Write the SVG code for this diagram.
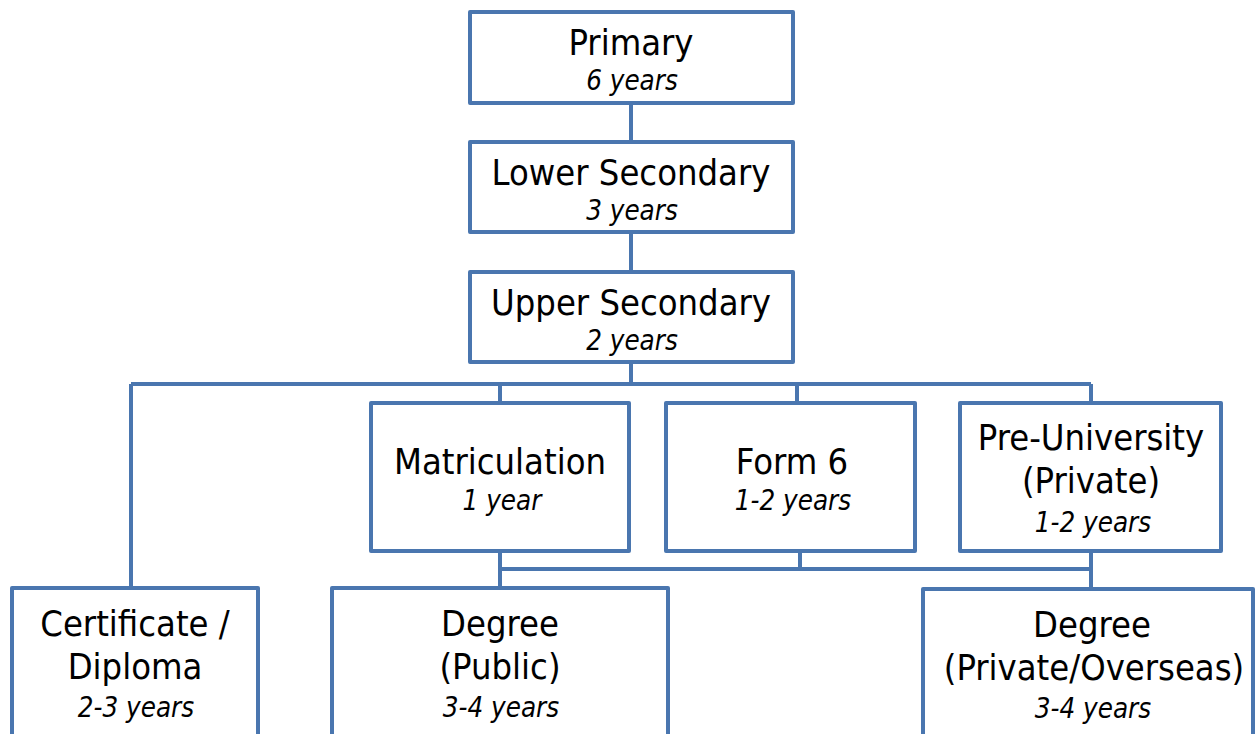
<svg xmlns="http://www.w3.org/2000/svg" width="1260" height="734" viewBox="0 0 1260 734">
<style>
.box{fill:#fff;stroke:#4A76AF;stroke-width:4;stroke-linejoin:round}
.ln{fill:none;stroke:#4A76AF;stroke-width:4}
.t{font-family:"DejaVu Sans Condensed","DejaVu Sans",sans-serif;font-stretch:condensed;font-size:36px;fill:#000;text-anchor:middle}
.s{font-family:"DejaVu Sans Condensed","DejaVu Sans",sans-serif;font-stretch:condensed;font-style:italic;font-size:27.5px;fill:#000;text-anchor:middle}
</style>
<rect width="1260" height="734" fill="#fff"/>
<g id="connectors">
<path class="ln" d="M631 103V142M631 232V272M631 362V384M131 384H1091M131 384V588M500 384V403M797 384V403M1091 384V569M500 551V588M800 551V569M500 569H1091M1091 569V589"/>
</g>
<g id="primary"><rect class="box" x="470" y="12" width="323" height="91"/><text class="t" x="631" y="55">Primary</text><text class="s" x="632" y="90">6 years</text></g>
<g id="lower"><rect class="box" x="470" y="142" width="323" height="90"/><text class="t" x="631" y="185">Lower Secondary</text><text class="s" x="632" y="220">3 years</text></g>
<g id="upper"><rect class="box" x="470" y="272" width="323" height="90"/><text class="t" x="631" y="315">Upper Secondary</text><text class="s" x="632" y="350">2 years</text></g>
<g id="matric"><rect class="box" x="371" y="403" width="258" height="148"/><text class="t" x="500" y="474">Matriculation</text><text class="s" x="502" y="510">1 year</text></g>
<g id="form6"><rect class="box" x="666" y="403" width="249" height="148"/><text class="t" x="792" y="474">Form 6</text><text class="s" x="793" y="510">1-2 years</text></g>
<g id="preu"><rect class="box" x="960" y="403" width="261" height="148"/><text class="t" x="1091" y="450">Pre-University</text><text class="t" x="1091" y="493">(Private)</text><text class="s" x="1093" y="532">1-2 years</text></g>
<g id="cert"><rect class="box" x="12" y="588" width="246" height="160"/><text class="t" x="135" y="636">Certificate /</text><text class="t" x="135" y="679">Diploma</text><text class="s" x="136" y="717">2-3 years</text></g>
<g id="degpub"><rect class="box" x="332" y="588" width="336" height="160"/><text class="t" x="500" y="636">Degree</text><text class="t" x="500" y="679">(Public)</text><text class="s" x="501" y="717">3-4 years</text></g>
<g id="degpriv"><rect class="box" x="923" y="589" width="330" height="160"/><text class="t" x="1092" y="637">Degree</text><text class="t" x="1094" y="680">(Private/Overseas)</text><text class="s" x="1093" y="718">3-4 years</text></g>
</svg>
